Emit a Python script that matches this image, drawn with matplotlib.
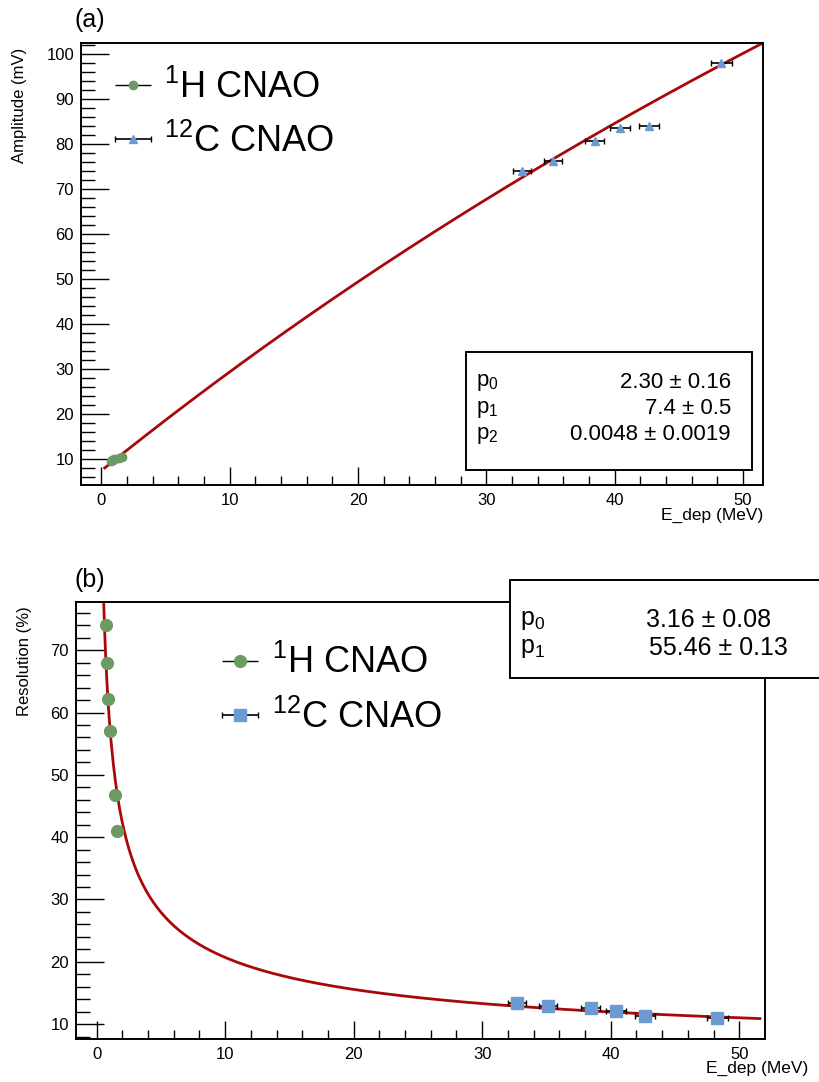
import numpy as np
import matplotlib
matplotlib.use("Agg")
import matplotlib.pyplot as plt
from matplotlib.patches import Rectangle

plt.rcParams["font.family"] = ["Liberation Sans", "DejaVu Sans"]
plt.rcParams["mathtext.fontset"] = "custom"
plt.rcParams["mathtext.rm"] = "Liberation Sans"
plt.rcParams["mathtext.default"] = "regular"

# values
e_proton = [0.72, 0.80, 0.90, 1.02, 1.40, 1.62]
amp_proton = [9.6, 9.7, 9.8, 10.0, 10.3, 10.5]
res_proton = [74.1, 68.0, 62.2, 57.1, 46.8, 41.0]

e_carbon = [32.74, 35.15, 38.43, 40.40, 42.68, 48.29]
e_carbon_err = [0.70, 0.70, 0.72, 0.78, 0.78, 0.82]
amp_carbon = [73.9, 76.3, 80.6, 83.5, 84.0, 97.9]
res_carbon = [13.3, 12.9, 12.5, 12.1, 11.3, 11.0]

amp_par = [2.30, 7.4, 0.0048]
amp_par_txt = ["2.30 \u00b1 0.16", "7.4 \u00b1 0.5", "0.0048 \u00b1 0.0019"]
res_par = [3.16, 55.46]
res_par_txt = ["3.16 \u00b1 0.08", "55.46 \u00b1 0.13"]

labels = ["$^{1}$H CNAO", "$^{12}$C CNAO"]

green = "#6b9a62"
blue = "#6b9bd2"
red = "#a80808"

W, H = 820, 1082
fig = plt.figure(figsize=(W / 100, H / 100), dpi=100)


def fx(px):
    return px / W


def fy(py):
    return 1 - py / H


def style_axes(ax):
    for s in ax.spines.values():
        s.set_linewidth(1.4)
    ax.tick_params(axis="both", which="both", direction="in", labelsize=12,
                   top=False, right=False, width=1.0)
    ax.tick_params(axis="y", which="major", length=20, pad=5)
    ax.tick_params(axis="y", which="minor", length=10)
    ax.tick_params(axis="x", which="major", length=13, pad=6)
    ax.tick_params(axis="x", which="minor", length=6.5)
    ax.set_xticks(np.arange(0, 51, 10))
    ax.set_xticks(np.arange(0, 52, 2), minor=True)


# ---------------- (a) amplitude ----------------
ax1 = fig.add_axes([fx(81), fy(485), fx(763) - fx(81), fy(42.7) - fy(485)])
ax1.set_xlim(-1.59, 51.55)
ax1.set_ylim(4.2, 102.5)
style_axes(ax1)
ax1.set_yticks(np.arange(10, 101, 10))
ax1.set_yticks(np.arange(6, 103, 2), minor=True)

e1 = np.linspace(0.26, 51.55, 400)
ax1.plot(e1, amp_par[1] + amp_par[0] * e1 / (1 + amp_par[2] * e1),
         color=red, lw=2, zorder=2)
h1 = ax1.errorbar(e_proton, amp_proton, xerr=0.0, fmt="o", ms=6,
                  color=green, ecolor="black", elinewidth=1, capsize=0, zorder=3)
h2 = ax1.errorbar(e_carbon, amp_carbon, xerr=e_carbon_err, fmt="^", ms=6,
                  color=blue, ecolor="black", elinewidth=1.2, capsize=2, zorder=3)
ax1.legend([h1, h2], labels, loc="upper left", bbox_to_anchor=(0.027, 0.98),
           frameon=False, fontsize=26, handlelength=0.85, handletextpad=0.45,
           labelspacing=0.5, borderpad=0)

fig.text(fx(20), fy(48), "Amplitude (mV)", rotation=90, ha="center", va="top",
         fontsize=12)
fig.text(fx(763), fy(515), "E_dep (MeV)", ha="right", va="center", fontsize=12.5)
fig.text(fx(75), fy(20), "(a)", ha="left", va="center", fontsize=18)

box1 = Rectangle((fx(466), fy(470)), fx(752) - fx(466), fy(352) - fy(470),
                 transform=fig.transFigure, facecolor="white", edgecolor="black",
                 lw=1.4, zorder=10)
fig.add_artist(box1)
for i, (t, yy) in enumerate(zip(amp_par_txt, [383, 409, 435])):
    fig.text(fx(476), fy(yy), "p$_{%d}$" % i, ha="left", va="center",
             fontsize=16, zorder=11)
    fig.text(fx(731), fy(yy), t, ha="right", va="center", fontsize=16, zorder=11)

# ---------------- (b) resolution ----------------
ax2 = fig.add_axes([fx(76), fy(1039), fx(765) - fx(76), fy(601.7) - fy(1039)])
ax2.set_xlim(-1.6, 52.0)
ax2.set_ylim(7.6, 77.8)
style_axes(ax2)
ax2.set_yticks(np.arange(10, 71, 10))
ax2.set_yticks(np.arange(8, 78, 2), minor=True)

e2 = np.linspace(0.45, 51.6, 600)
ax2.plot(e2, res_par[0] + res_par[1] / np.sqrt(e2), color=red, lw=2, zorder=2)
g1 = ax2.errorbar(e_proton, res_proton, xerr=0.0, fmt="o", ms=8.5,
                  color=green, ecolor="black", elinewidth=1, capsize=0, zorder=3)
g2 = ax2.errorbar(e_carbon, res_carbon, xerr=e_carbon_err, fmt="s", ms=9,
                  color=blue, ecolor="black", elinewidth=1.2, capsize=2, zorder=3)
ax2.legend([g1, g2], labels, loc="upper left", bbox_to_anchor=(0.185, 0.942),
           frameon=False, fontsize=26, handlelength=1.0, handletextpad=0.4,
           labelspacing=0.5, borderpad=0)

fig.text(fx(25), fy(606), "Resolution (%)", rotation=90, ha="center", va="top",
         fontsize=12)
fig.text(fx(808), fy(1068), "E_dep (MeV)", ha="right", va="center", fontsize=12.5)
fig.text(fx(75), fy(580), "(b)", ha="left", va="center", fontsize=18)

box2 = Rectangle((fx(510), fy(678)), fx(830) - fx(510), fy(580) - fy(678),
                 transform=fig.transFigure, facecolor="white", edgecolor="black",
                 lw=1.4, zorder=10)
fig.add_artist(box2)
for i, (t, yy, xx) in enumerate(zip(res_par_txt, [620, 648], [646, 649])):
    fig.text(fx(520), fy(yy), "p$_{%d}$" % i, ha="left", va="center",
             fontsize=18, zorder=11)
    fig.text(fx(xx), fy(yy), t, ha="left", va="center", fontsize=18, zorder=11)

fig.savefig("out.png", dpi=100)
